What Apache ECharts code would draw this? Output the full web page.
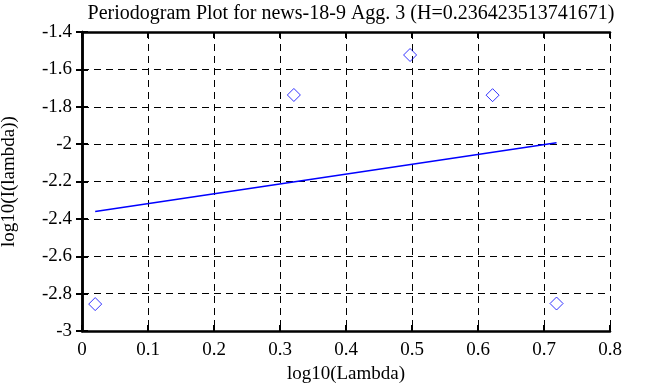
<!DOCTYPE html>
<html>
<head>
<meta charset="utf-8">
<script src="https://cdn.jsdelivr.net/npm/echarts@6/dist/echarts.min.js"></script>
<style>html,body{margin:0;padding:0;background:#fff}#c{width:647px;height:387px}</style>
</head>
<body>
<div id="c"></div>
<script>
var logLambda = [0.0200, 0.3210, 0.4971, 0.6221, 0.7190];
var logI = [-2.856, -1.737, -1.523, -1.738, -2.853];
var fitX = [0.0200, 0.7190];
var fitY = [-2.3607, -1.9921];
var xTicks = [0, 0.1, 0.2, 0.3, 0.4, 0.5, 0.6, 0.7, 0.8];
var yTicks = [-3, -2.8, -2.6, -2.4, -2.2, -2, -1.8, -1.6, -1.4];

var font = 'Liberation Serif';
var chart = echarts.init(document.getElementById('c'));
function fmt(v){ return String(Math.round(v*10)/10); }
var axisCommon = {
  type: 'value',
  axisLine: {show: true, lineStyle: {color: '#000', width: 2.5}},
  axisTick: {show: true, inside: true, length: 6, lineStyle: {color: '#000', width: 2}},
  splitLine: {show: false}
};
chart.setOption({
  animation: false,
  backgroundColor: '#fff',
  title: {
    text: 'Periodogram Plot for news-18-9 Agg. 3 (H=0.236423513741671)',
    left: 346, top: -1, textAlign: 'center',
    textStyle: {fontFamily: font, fontSize: 20, fontWeight: 'normal', color: '#000'}
  },
  grid: {left: 82, right: 37, top: 32, bottom: 56, containLabel: false, outerBoundsMode: 'none'},
  xAxis: [
    Object.assign({}, axisCommon, {
      min: xTicks[0], max: xTicks[xTicks.length-1], interval: 0.1, position: 'bottom',
      name: 'log10(Lambda)', nameLocation: 'middle', nameGap: 34,
      nameTextStyle: {fontFamily: font, fontSize: 19, color: '#000'},
      axisLabel: {fontFamily: font, fontSize: 19, color: '#000', margin: 10, formatter: fmt},
      splitLine: {show: true, lineStyle: {color: '#000', type: [7, 5], width: 1}}
    }),
    Object.assign({}, axisCommon, {
      min: xTicks[0], max: xTicks[xTicks.length-1], interval: 0.1, position: 'top',
      axisLabel: {show: false}
    })
  ],
  yAxis: [
    Object.assign({}, axisCommon, {
      min: yTicks[0], max: yTicks[yTicks.length-1], interval: 0.2, position: 'left',
      name: 'log10(I(lambda))', nameLocation: 'middle', nameGap: 63, nameRotate: 90,
      nameTextStyle: {fontFamily: font, fontSize: 19, color: '#000'},
      axisLabel: {fontFamily: font, fontSize: 19, color: '#000', margin: 10, formatter: fmt},
      splitLine: {show: true, lineStyle: {color: '#000', type: [7, 5], width: 1}}
    }),
    Object.assign({}, axisCommon, {
      min: yTicks[0], max: yTicks[yTicks.length-1], interval: 0.2, position: 'right',
      axisLabel: {show: false}
    })
  ],
  series: [
    {
      type: 'line',
      data: fitX.map(function(x, i){ return [x, fitY[i]]; }),
      showSymbol: false,
      lineStyle: {color: '#0000ff', width: 1.5},
      z: 3
    },
    {
      type: 'scatter',
      data: logLambda.map(function(x, i){ return [x, logI[i]]; }),
      symbol: 'diamond',
      symbolSize: 13,
      itemStyle: {color: 'transparent', borderColor: '#0000ff', borderWidth: 1},
      z: 4
    }
  ]
});
</script>
</body>
</html>
